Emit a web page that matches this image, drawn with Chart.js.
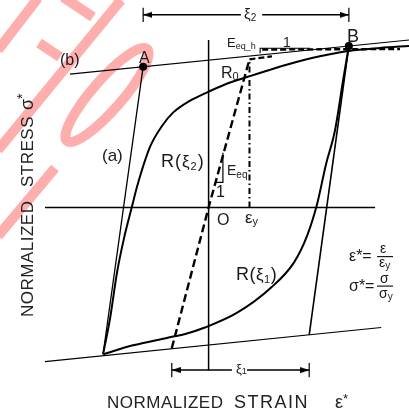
<!DOCTYPE html>
<html>
<head>
<meta charset="utf-8">
<script src="https://cdn.jsdelivr.net/npm/chart.js@4"></script>
<style>
  html, body { margin: 0; padding: 0; background: #fff; }
  #wrap { width: 409px; height: 415px; position: relative; }
</style>
</head>
<body>
<div id="wrap"><canvas id="c"></canvas></div>
<script>
// Normalized strain (eps*) and stress (sigma*) coordinates of the hysteresis sketch.
const upperAsymptote = [[-3.39, 0.90], [4.90, 1.13]];
const lowerAsymptote = [[-4.00, -1.04], [4.22, -0.81]];
const strainAxis = [[-4.00, 0], [4.07, 0]];
const stressAxis = [[0, 1.13], [0, -1.10]];

const pointA = [-1.60, 0.95];
const pointB = [3.43, 1.09];
const pointC = [-2.58, -0.99];
const pointD = [2.46, -0.86];

// reloading branch R(xi2), from C towards the upper asymptote
const curveXi2 = [
  [-2.58, -0.99], [-2.41, -0.75], [-2.24, -0.44], [-2.07, -0.21], [-1.87, 0.01],
  [-1.75, 0.14], [-1.43, 0.41], [-1.14, 0.55], [-0.87, 0.64], [-0.46, 0.72],
  [-0.09, 0.77], [0.40, 0.83], [0.94, 0.88], [1.62, 0.94], [2.33, 0.995],
  [2.72, 1.02], [3.43, 1.056], [4.19, 1.076], [4.90, 1.09]
];
// branch R(xi1), from C up to B
const curveXi1 = [
  [-2.58, -0.99], [-1.85, -0.93], [-1.02, -0.88], [-0.53, -0.85], [-0.09, -0.81],
  [0.70, -0.71], [1.53, -0.54], [2.09, -0.37], [2.41, -0.19], [2.65, 0.02],
  [2.87, 0.29], [3.09, 0.52], [3.29, 0.86], [3.43, 1.09]
];

// equivalent bilinear law
const equivElastic = [[-0.90, -0.95], [0, 0], [1.00, 1.00]];
const equivKnee = [[1.00, 1.00], [1.55, 1.02]];
const equivHardening = [[1.31, 1.066], [4.68, 1.069]];
const yieldMarker = [[1.00, 0], [1.00, 1.00]];
const slopeEq = [[0.17, 0.17], [0.35, 0.17], [0.35, 0.37]];
const slopeEqH = [[1.26, 1.04], [1.26, 1.074], [2.48, 1.074]];

// dimension lines xi2 (top) and xi1 (bottom)
const xi2Level = 1.30, xi2Gap = [0.79, 1.31];
const xi1Level = -1.097, xi1Gap = [0.57, 0.94];
const tickHalf = 0.048;

const toPts = arr => arr.map(([x, y]) => ({ x, y }));
function line(data, extra) {
  return Object.assign({
    data: toPts(data), showLine: true, pointRadius: 0, pointHoverRadius: 0,
    borderColor: '#000', borderWidth: 1.2, fill: false, tension: 0
  }, extra);
}

function arrowHead(len, half) {
  const c = document.createElement('canvas');
  c.width = len * 2; c.height = half * 2 + 2;
  const g = c.getContext('2d');
  const cy = c.height / 2;
  g.fillStyle = '#000';
  g.beginPath();
  g.moveTo(len, cy); g.lineTo(0, cy - half); g.lineTo(0, cy + half);
  g.closePath(); g.fill();
  return c;
}
const arrow = arrowHead(9, 3);

const xiA = pointA[0], xiB = pointB[0];
const xi1L = equivElastic[0][0], xi1R = pointD[0];

const datasets = [
  line(upperAsymptote, { borderWidth: 1.1 }),
  line(lowerAsymptote, { borderWidth: 1.1 }),
  line(strainAxis, { borderWidth: 1.5 }),
  line(stressAxis, { borderWidth: 1.5 }),
  line([pointC, pointA], { borderWidth: 1.3 }),
  line([pointB, pointD], { borderWidth: 1.6 }),
  line(curveXi2, { borderWidth: 2, cubicInterpolationMode: 'monotone' }),
  line(curveXi1, { borderWidth: 2, cubicInterpolationMode: 'monotone' }),
  line(equivElastic, { borderWidth: 2.4, borderDash: [8, 4] }),
  line(equivKnee, { borderWidth: 2.2, borderDash: [6, 3] }),
  line(equivHardening, { borderWidth: 2.4, borderDash: [6, 3] }),
  line(yieldMarker, { borderWidth: 2, borderDash: [6, 3, 1.5, 3] }),
  line(slopeEq, { borderWidth: 1.2 }),
  line(slopeEqH, { borderWidth: 1.1 }),
  // xi2 dimension
  line([[xiA, xi2Level], [xi2Gap[0], xi2Level]], { borderWidth: 1.5 }),
  line([[xi2Gap[1], xi2Level], [xiB, xi2Level]], { borderWidth: 1.5 }),
  line([[xiA, xi2Level + tickHalf], [xiA, xi2Level - tickHalf]], { borderWidth: 1.2 }),
  line([[xiB, xi2Level + tickHalf], [xiB, xi2Level - tickHalf]], { borderWidth: 1.2 }),
  // xi1 dimension
  line([[xi1L, xi1Level], [xi1Gap[0], xi1Level]], { borderWidth: 1.5 }),
  line([[xi1Gap[1], xi1Level], [xi1R, xi1Level]], { borderWidth: 1.5 }),
  line([[xi1L, xi1Level + tickHalf], [xi1L, xi1Level - tickHalf]], { borderWidth: 1.2 }),
  line([[xi1R, xi1Level + tickHalf], [xi1R, xi1Level - tickHalf]], { borderWidth: 1.2 }),
  {
    data: toPts([[xiA, xi2Level], [xiB, xi2Level], [xi1L, xi1Level], [xi1R, xi1Level]]),
    showLine: false, pointStyle: arrow, pointRadius: 5, pointRotation: [180, 0, 180, 0],
    pointHoverRadius: 5
  },
  {
    data: toPts([pointA, pointB]), showLine: false, pointStyle: 'circle',
    pointRadius: 4, pointBackgroundColor: '#000', pointBorderColor: '#000', pointBorderWidth: 0
  }
];

const FONT = '"Liberation Sans", Arial, sans-serif';

// writes a run of pieces [text, size, dy] starting at (x, y) on a common baseline
function rich(ctx, x, y, parts, spacing) {
  let cx = x;
  for (const [t, size, dy] of parts) {
    ctx.font = size + 'px ' + FONT;
    ctx.letterSpacing = (spacing || 0) + 'px';
    ctx.fillText(t, cx, y + (dy || 0));
    cx += ctx.measureText(t).width;
  }
  return cx;
}

const stampPlugin = {
  id: 'stamp',
  beforeDatasetsDraw(chart) {
    const ctx = chart.ctx;
    ctx.save();
    ctx.strokeStyle = 'rgb(255,174,174)';
    ctx.lineWidth = 10;
    ctx.lineCap = 'butt';
    const seg = (a, b, c, d) => { ctx.beginPath(); ctx.moveTo(a, b); ctx.lineTo(c, d); ctx.stroke(); };
    seg(38, -2, -2, 50);
    seg(121, 0, -2, 150);
    seg(63, -3, 93, 17);
    seg(39, 43, 60, 57);
    seg(55, 168, -2, 236);
    ctx.beginPath();
    ctx.ellipse(107, 95, 61, 15, -0.855, 0, Math.PI * 2);
    ctx.stroke();
    ctx.restore();
  }
};

const labelPlugin = {
  id: 'labels',
  afterDatasetsDraw(chart) {
    const ctx = chart.ctx;
    ctx.save();
    ctx.fillStyle = '#1a1a1a';
    ctx.textBaseline = 'alphabetic';
    ctx.textAlign = 'left';

    rich(ctx, 60, 65, [['(b)', 16]]);
    rich(ctx, 139, 63, [['A', 16]]);
    rich(ctx, 347, 42, [['B', 18]]);
    rich(ctx, 102, 161, [['(a)', 17]]);
    rich(ctx, 161, 167, [['R(', 18], ['ξ', 17], ['2', 11, 3], [')', 18]], 1);
    rich(ctx, 236, 280, [['R(', 18], ['ξ', 17], ['1', 11, 3], [')', 18]], 0.5);
    rich(ctx, 221, 78, [['R', 16], ['0', 11, 2]]);
    rich(ctx, 227, 47, [['E', 13], ['eq_h', 9, 2]]);
    rich(ctx, 283, 47, [['1', 14]]);
    rich(ctx, 227, 175, [['E', 14], ['eq', 10, 3]]);
    rich(ctx, 216, 197, [['1', 16]]);
    rich(ctx, 217, 225, [['O', 16]]);
    rich(ctx, 245, 223, [['ε', 17], ['y', 11, 2]]);

    // dimension labels
    rich(ctx, 244, 19, [['ξ', 15], ['2', 10, 2]]);
    rich(ctx, 236, 373, [['ξ', 13], ['1', 9, 1]]);

    // definitions of the normalized quantities
    rich(ctx, 349, 261, [['ε*=', 16]]);
    rich(ctx, 380, 253, [['ε', 14]]);
    rich(ctx, 379, 267, [['ε', 14], ['y', 10, 2]]);
    rich(ctx, 349, 291, [['σ*=', 16]]);
    rich(ctx, 380, 283, [['σ', 14]]);
    rich(ctx, 379, 298, [['σ', 14], ['y', 10, 2]]);
    ctx.fillRect(377, 256, 16, 1.2);
    ctx.fillRect(377, 285.5, 16, 1.2);

    // axis titles
    ctx.fillStyle = '#222';
    rich(ctx, 107, 408, [['NORMALIZED', 17]], 0.5);
    rich(ctx, 234, 408, [['STRAIN', 18]], 1.5);
    rich(ctx, 335, 408, [['ε', 18], ['*', 13, -5]]);

    ctx.translate(33, 317);
    ctx.rotate(-Math.PI / 2);
    rich(ctx, 0, 0, [['NORMALIZED', 17]], 0.5);
    rich(ctx, 130, 0, [['STRESS', 17]], 0.5);
    rich(ctx, 207, 0, [['σ', 18], ['*', 14, -6]]);
    ctx.restore();
  }
};

new Chart(document.getElementById('c'), {
  type: 'scatter',
  data: { datasets },
  options: {
    responsive: true,
    maintainAspectRatio: false,
    animation: false,
    layout: { padding: 0, autoPadding: false },
    events: [],
    scales: {
      x: { type: 'linear', min: -5.1, max: 4.9, display: false },
      y: { type: 'linear', min: -1.4, max: 1.4, display: false }
    },
    plugins: { legend: { display: false }, tooltip: { enabled: false } }
  },
  plugins: [stampPlugin, labelPlugin]
});
</script>
</body>
</html>
